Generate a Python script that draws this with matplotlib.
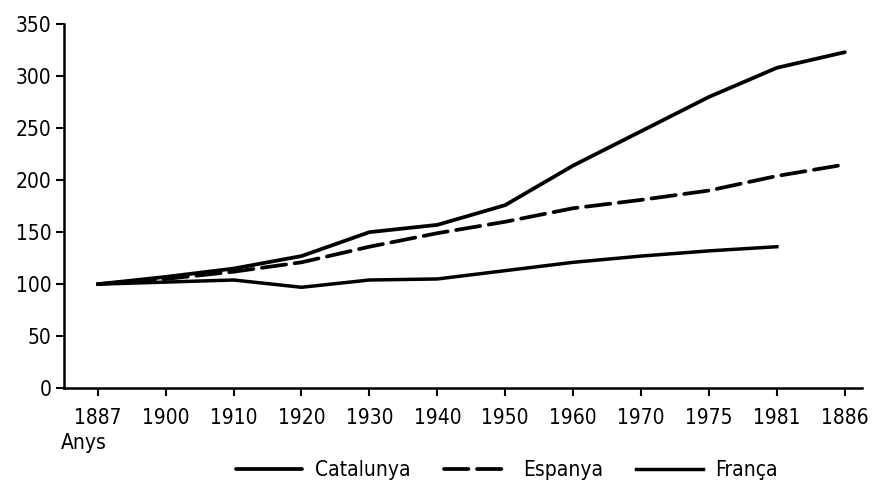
import numpy as np
import matplotlib.pyplot as plt

plt.rcParams['font.family'] = ['DejaVu Sans']
plt.rcParams['font.stretch'] = 'condensed'

anys = ["1887", "1900", "1910", "1920", "1930", "1940", "1950",
        "1960", "1970", "1975", "1981", "1886"]
catalunya = [100, 107, 115, 127, 150, 157, 176, 214, 247, 280, 308, 323]
espanya = [100, 105, 112, 121, 136, 149, 160, 173, 181, 190, 204, 215]
franca = [100, 102, 104, 97, 104, 105, 113, 121, 127, 132, 136]

fig = plt.figure(figsize=(8.74, 4.92), dpi=100)
ax = fig.add_axes([0.073, 0.211, 0.913, 0.740])

x = np.arange(len(anys))
ax.plot(x, catalunya, color='black', lw=2.7, solid_capstyle='round', label='Catalunya')
ax.plot(x, espanya, color='black', lw=2.7, ls=(0, (6.5, 2.3)), dash_capstyle='round', label='Espanya')
ax.plot(x[:len(franca)], franca, color='black', lw=2.5, label='França')

ax.set_xlim(-0.5, 11.25)
ax.set_ylim(0, 350)
ax.set_yticks(np.arange(0, 351, 50))
ax.set_xticks(x)
ax.set_xticklabels(anys)
ax.spines['top'].set_visible(False)
ax.spines['right'].set_visible(False)
ax.spines['left'].set_linewidth(1.8)
ax.spines['bottom'].set_linewidth(1.8)
ax.tick_params(axis='both', labelsize=15, width=1.5, length=6, direction='out')
ax.tick_params(axis='x', pad=8)
ax.tick_params(axis='y', pad=3)

fig.text(0.070, 0.10, "Anys", fontsize=15, ha='left', va='center')

fig.legend(loc='center', bbox_to_anchor=(0.58, 0.045), ncol=3, frameon=False,
           fontsize=15, handlelength=3.2, columnspacing=1.6, handletextpad=0.6)

fig.savefig('out.png', dpi=100)
